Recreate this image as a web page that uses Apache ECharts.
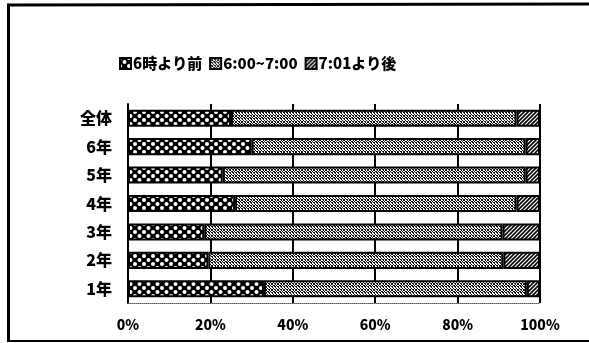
<!DOCTYPE html>
<html>
<head>
<meta charset="utf-8">
<script src="https://cdn.jsdelivr.net/npm/echarts@6/dist/echarts.min.js"></script>
<style>
  html, body { margin: 0; padding: 0; background: #fff; }
  #chart { width: 589px; height: 343px; }
</style>
</head>
<body>
<div id="chart"></div>
<script>
// Grade labels, top to bottom
const categories = ['全体', '6年', '5年', '4年', '3年', '2年', '1年'];
// Share of pupils (%) by wake-up time
const before6 = [25.0, 30.0, 23.0, 26.0, 18.5, 19.5, 33.0];
const from6to7 = [69.3, 66.5, 73.5, 68.3, 72.4, 71.6, 63.8];
const after701 = [5.7, 3.5, 3.5, 5.7, 9.1, 8.9, 3.2];
const seriesNames = ['6時より前', '6:00~7:00', '7:01より後'];
const tickLabels = ['0%', '20%', '40%', '60%', '80%', '100%'];

// Monochrome fill textures
function makeTile(w, h, draw) {
  const c = document.createElement('canvas');
  c.width = w; c.height = h;
  const ctx = c.getContext('2d');
  draw(ctx, w, h);
  return { image: c, repeat: 'repeat' };
}
// black ground with a lattice of white dots
const dotFill = makeTile(9, 8, (ctx, w, h) => {
  ctx.fillStyle = '#000'; ctx.fillRect(0, 0, w, h);
  ctx.fillStyle = '#fff';
  const pts = [[0, 0], [w, 0], [0, h], [w, h], [w / 2, h / 2]];
  pts.forEach(([x, y]) => { ctx.beginPath(); ctx.arc(x, y, 2.0, 0, Math.PI * 2); ctx.fill(); });
});
// dense crossed stipple
const stippleFill = makeTile(6, 6, (ctx, w, h) => {
  ctx.fillStyle = '#fff'; ctx.fillRect(0, 0, w, h);
  ctx.fillStyle = '#111';
  const px = [[0, 0], [3, 0], [1, 1], [2, 1], [4, 1], [5, 1], [2, 2], [5, 2], [0, 3], [3, 3],
              [1, 4], [2, 4], [4, 4], [5, 4], [2, 5], [5, 5], [1, 2], [4, 3]];
  px.forEach(([x, y]) => ctx.fillRect(x, y, 1, 1));
});
// diagonal hatch
const hatchFill = makeTile(4, 4, (ctx, w, h) => {
  ctx.fillStyle = '#fff'; ctx.fillRect(0, 0, w, h);
  ctx.strokeStyle = '#000'; ctx.lineWidth = 1.6;
  ctx.beginPath();
  ctx.moveTo(0, h); ctx.lineTo(w, 0);
  ctx.moveTo(-1, 1); ctx.lineTo(1, -1);
  ctx.moveTo(w - 1, h + 1); ctx.lineTo(w + 1, h - 1);
  ctx.stroke();
});
const fills = [dotFill, stippleFill, hatchFill];

const FONT = '"Noto Sans CJK JP", "Noto Sans", sans-serif';
const chart = echarts.init(document.getElementById('chart'));
const values = [before6, from6to7, after701];

chart.setOption({
  animation: false,
  backgroundColor: '#fff',
  legend: {
    left: 114, top: 51,
    itemWidth: 11, itemHeight: 11, itemGap: 7,
    icon: 'rect',
    textStyle: { fontFamily: FONT, fontWeight: 900, fontSize: 15, color: '#000', padding: [0, 0, 0, -3] },
    data: seriesNames
  },
  grid: { left: 128, right: 49, top: 104, bottom: 40 },
  xAxis: {
    type: 'value', min: 0, max: 100, interval: 20,
    axisLine: { show: true, lineStyle: { color: '#555', width: 1, type: 'dotted' } },
    axisTick: { show: false },
    splitLine: { show: true, lineStyle: { color: '#000', width: 2 } },
    axisLabel: {
      margin: 15, fontFamily: FONT, fontWeight: 900, fontSize: 14, color: '#000',
      formatter: v => tickLabels[v / 20]
    }
  },
  yAxis: {
    type: 'category', inverse: true, data: categories,
    axisLine: { show: true, lineStyle: { color: '#000', width: 2 } },
    axisTick: { show: false },
    axisLabel: { margin: 16, fontFamily: FONT, fontWeight: 900, fontSize: 16, color: '#000' }
  },
  series: seriesNames.map((name, i) => ({
    name, type: 'bar', stack: 'total',
    barCategoryGap: '40%',
    data: values[i],
    itemStyle: { color: fills[i], borderColor: '#000', borderWidth: 2 }
  })),
  graphic: [
    { type: 'line', shape: { x1: 8.5, y1: 6, x2: 8.5, y2: 341 }, style: { stroke: '#000', lineWidth: 3 } },
    { type: 'line', shape: { x1: 7, y1: 5, x2: 589, y2: 4 }, style: { stroke: '#000', lineWidth: 3 } },
    { type: 'line', shape: { x1: 7, y1: 341, x2: 589, y2: 341 }, style: { stroke: '#000', lineWidth: 2 } }
  ]
});
</script>
</body>
</html>
